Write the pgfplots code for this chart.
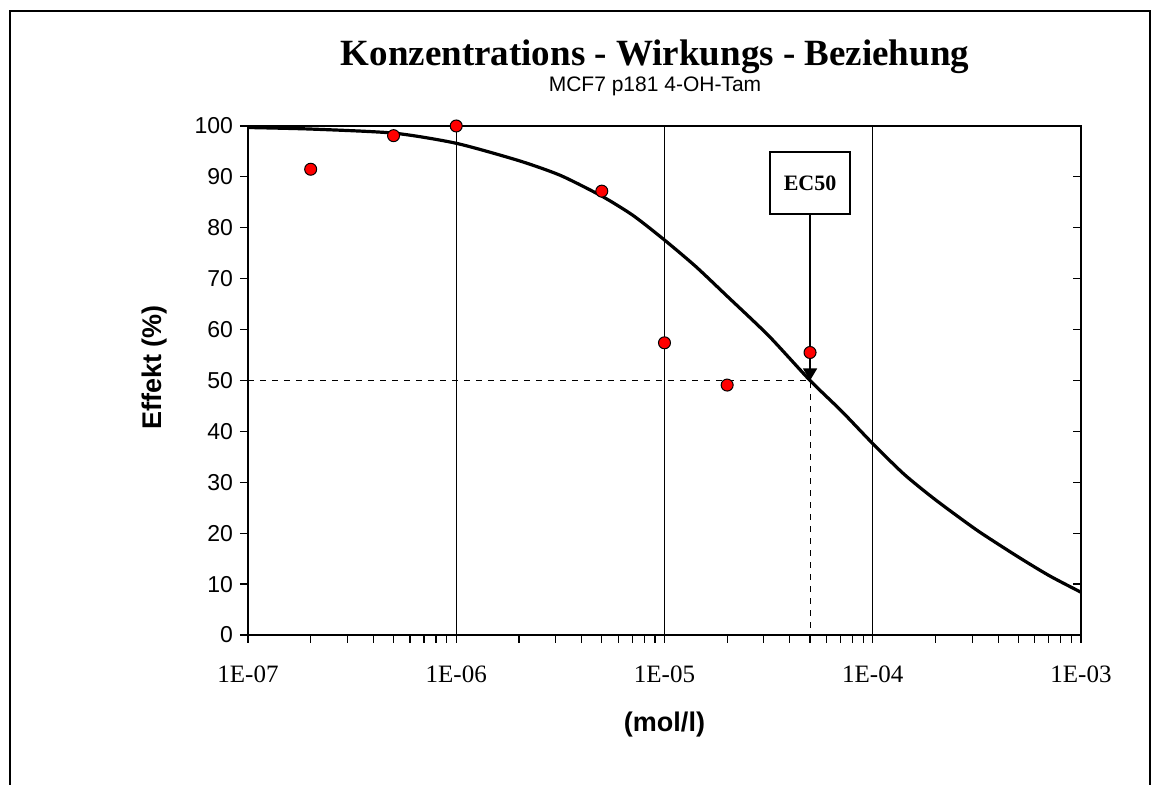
\documentclass[border=0pt]{standalone}
\usepackage{fontspec}
\setmainfont{Liberation Sans}
\newfontfamily\timesfont{Liberation Serif}
\usepackage{pgfplots}
\pgfplotsset{compat=1.18}
\usetikzlibrary{arrows.meta}
\begin{document}
\begin{tikzpicture}
\useasboundingbox (-124pt,-75pt) rectangle (456pt,317.5pt);
\draw[line width=1pt] (-119pt,-76pt) -- (-119pt,312pt) -- (451pt,312pt) -- (451pt,-76pt);
\begin{axis}[
  at={(0pt,0pt)}, anchor=south west,
  scale only axis, width=416.5pt, height=254.5pt,
  xmode=log, xmin=1e-7, xmax=1e-3,
  ymin=0, ymax=100,
  ytick={0,10,...,100},
  xtick={1e-7,1e-6,1e-5,1e-4,1e-3},
  xticklabels={1E-07,1E-06,1E-05,1E-04,1E-03},
  xticklabel style={font=\timesfont\fontsize{12.5}{13}\selectfont, yshift=-8pt},
  yticklabel style={font=\fontsize{11.5}{12}\selectfont},
  /pgf/number format/assume math mode=true,
  tick align=outside, tick pos=left,
  major tick length=4pt, minor tick length=4pt,
  every tick/.style={black, line width=0.6pt},
  axis line style={line width=0.9pt},
  xmajorgrids, major x grid style={black, line width=0.4pt},
  xlabel={\bfseries (mol/l)},
  ylabel={\bfseries Effekt (\%)},
  xlabel style={font=\fontsize{13.5}{14}\selectfont, at={(axis description cs:0.5,0)}, anchor=center, yshift=-45pt},
  ylabel style={font=\fontsize{13.5}{14}\selectfont, xshift=6.5pt, yshift=7pt},
  clip=false,
]
\addplot[black, line width=1.6pt, smooth, tension=0.4] coordinates {
(1e-7,99.7) (1.9953e-7,99.4) (5.0119e-7,98.6) (1e-6,96.6) (1.9953e-6,93.2) (3.1623e-6,90.3)
(5.0119e-6,86.2) (7.0795e-6,82.4) (1e-5,77.6) (1.4125e-5,72.4) (1.9953e-5,66.6) (3.1623e-5,58.8)
(5e-5,50.0) (7.0795e-5,44.0) (1e-4,37.6) (1.4125e-4,31.6) (1.9953e-4,26.6) (3.1623e-4,20.6)
(5.0119e-4,15.3) (7.0795e-4,11.6) (1e-3,8.4)
};
\addplot[only marks, mark=*, mark size=3pt, mark options={fill=red, draw=black, line width=0.5pt}] coordinates {
(2e-7,91.5) (5e-7,98.1) (1e-6,100) (5e-6,87.2) (1e-5,57.4) (2e-5,49.1) (5e-5,55.5)
};
\draw[dashed, line width=0.4pt] (axis cs:1e-7,50) -- (axis cs:5e-5,50) -- (axis cs:5e-5,0);
\draw[line width=0.6pt, -{Triangle[length=6pt,width=7pt]}] (axis cs:5e-5,82.7) -- (axis cs:5e-5,50);
\node[draw, line width=0.9pt, fill=white, minimum width=40pt, minimum height=31pt, inner sep=0pt,
  font=\timesfont\bfseries\fontsize{11}{12}\selectfont] at (axis cs:5e-5,88.8) {EC50};
\end{axis}
\begin{axis}[
  at={(0pt,0pt)}, anchor=south west,
  scale only axis, width=416.5pt, height=254.5pt,
  xmin=0, xmax=1, ymin=0, ymax=100,
  axis x line=none, axis y line*=right,
  ytick={0,10,...,100}, yticklabels={},
  tick align=inside, major tick length=4pt,
  every tick/.style={black, line width=0.6pt},
  axis line style={line width=0.9pt},
]
\addplot[draw=none] coordinates {(0,0)};
\end{axis}
\node[font=\timesfont\bfseries\fontsize{18.5}{19}\selectfont] at (203.5pt,289pt) {Konzentrations - Wirkungs - Beziehung};
\node[font=\fontsize{10.5}{11}\selectfont] at (203.5pt,274.5pt) {MCF7 p181 4-OH-Tam};
\end{tikzpicture}
\end{document}
